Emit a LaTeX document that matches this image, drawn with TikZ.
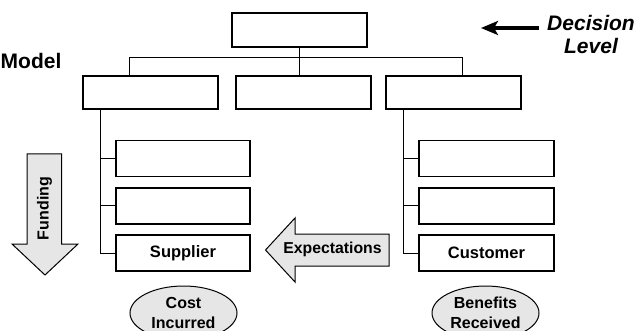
\documentclass[tikz,border=0pt]{standalone}
\usepackage{fontspec}
\setmainfont{Liberation Sans}
\usetikzlibrary{arrows.meta,shapes.geometric}
\definecolor{shade}{HTML}{E6E6E6}
\begin{document}
\begin{tikzpicture}[x=1pt,y=-1pt,
  box/.style={draw,line width=1.3pt,fill=white,minimum width=135pt,minimum height=34pt,inner sep=0pt,font=\fontsize{16.5}{18}\selectfont\bfseries},
  wire/.style={line width=1pt},
  blob/.style={draw,line width=1pt,fill=shade,ellipse,minimum width=107pt,minimum height=54pt,inner sep=0pt,align=center,font=\fontsize{16}{20}\selectfont\bfseries},
  bigarrow/.style={draw,line width=1pt,fill=shade,line join=miter}]
\useasboundingbox (0,0) rectangle (637,331);
\clip (0,0) rectangle (637,331);

% hierarchy boxes
\node[box] (top) at (299.5,30) {};
\node[box,minimum height=33pt] (la) at (150.5,92.5) {};
\node[box,minimum height=33pt] (lb) at (303.5,92.5) {};
\node[box,minimum height=33pt] (lc) at (453.5,92.5) {};

\node[box,minimum width=134pt,minimum height=36pt] (s1) at (183,158.5) {};
\node[box,minimum width=134pt,minimum height=36pt] (s2) at (183,206) {};
\node[box,minimum width=134pt,minimum height=36pt] (sup) at (183,253) {Supplier};

\node[box,minimum width=135pt,minimum height=36pt] (c1) at (486.5,158.5) {};
\node[box,minimum width=135pt,minimum height=36pt] (c2) at (486.5,206) {};
\node[box,minimum width=135pt,minimum height=36pt] (cus) at (486.5,253) {Customer};

% connectors
\coordinate (busL) at (129,58);
\coordinate (busR) at (462.5,58);
\draw[wire] (top.south) -- (top.south |- lb.north);
\draw[wire] (busL) -- (busR);
\draw[wire] (busL) -- (busL |- la.north);
\draw[wire] (busR) -- (busR |- lc.north);

\coordinate (trunkL) at (100,109);
\draw[wire] (trunkL) |- (sup.west);
\draw[wire] (trunkL |- s1.west) -- (s1.west);
\draw[wire] (trunkL |- s2.west) -- (s2.west);

\coordinate (trunkR) at (403.5,109);
\draw[wire] (trunkR) |- (cus.west);
\draw[wire] (trunkR |- c1.west) -- (c1.west);
\draw[wire] (trunkR |- c2.west) -- (c2.west);

% labels
\node[font=\fontsize{21}{24}\selectfont\bfseries,anchor=west,inner sep=0pt] (model) at (0.5,60.5) {Model};
\node[font=\fontsize{21}{23}\selectfont\bfseries\itshape,align=center,inner sep=0pt] (dec) at (591,34) {Decision\\Level};
\coordinate (decTail) at (539,28);
\coordinate (decTip) at (481,28);
\draw[line width=3.6pt,-{Stealth[length=17pt,width=14pt,inset=4pt]}] (decTail) -- (decTip);

% funding arrow
\draw[bigarrow] (27,154) -- (61.5,154) -- (61.5,244) -- (78,244) -- (45,275)
  -- (12,244) -- (27,244) -- cycle;
\node[rotate=90,font=\fontsize{16}{18}\selectfont\bfseries] (fund) at (44.5,208.5) {Funding};

% expectations arrow
\draw[bigarrow] (389,234) -- (389,266) -- (295,266) -- (295,282) -- (265.5,250)
  -- (295,218) -- (295,234) -- cycle;
\node[font=\fontsize{15.8}{18}\selectfont\bfseries] (exp) at (332.5,249.5) {Expectations};

% outcome ellipses
\node[blob] (cost) at (183.5,313) {Cost\\Incurred};
\node[blob] (ben) at (485.5,313) {Benefits\\Received};
\end{tikzpicture}
\end{document}
